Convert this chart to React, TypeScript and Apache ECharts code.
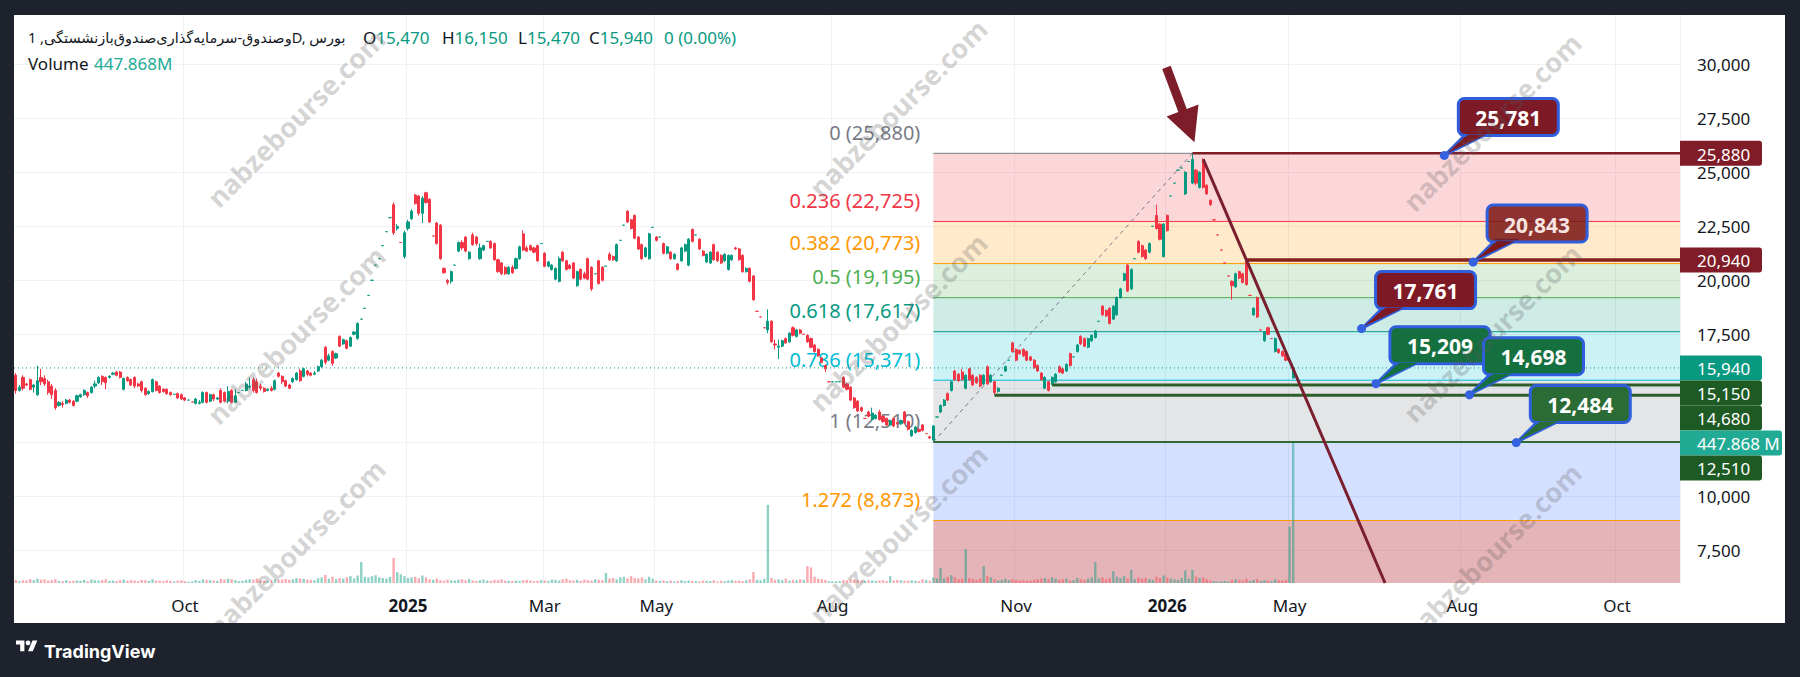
import React, { useEffect, useRef } from 'react';
import * as echarts from 'echarts';

// ---------- DATA ----------
// [open, close, low, high]
const CANDLES: number[][] = [
  [15600,14900,14750,15700],[14900,15050,14850,15150],[15500,15000,14900,15600],[15200,15150,15100,15250],[15400,14950,14900,15450],
  [15050,15150,14800,15200],[14700,15350,14650,16050],[15500,15300,15150,15900],[15450,15200,15100,15600],[15300,14800,14700,15400],
  [15100,14700,14500,15200],[14900,14100,14000,15000],[14200,14350,14150,14400],[14300,14250,14100,14400],[14300,14450,14250,14500],
  [14450,14350,14300,14500],[14400,14200,14150,14450],[14400,14650,14350,14700],[14600,14700,14550,14750],[14700,14900,14650,14950],
  [14800,14650,14550,14850],[14800,15050,14750,15100],[15100,15200,15000,15350],[15250,15500,15200,15550],[15550,15300,15150,15600],
  [15500,15250,14950,15550],[15500,15550,15450,15600],[15650,15700,15600,15750],[15750,15600,15550,15800],[15750,15500,15450,15800],
  [14950,15450,14900,15500],[15500,15350,15300,15550],[15400,15150,15100,15450],[15500,15100,15000,15550],[15200,15100,15050,15250],
  [15300,14900,14800,15350],[15000,14700,14650,15050],[14750,14850,14700,14900],[14850,15400,14800,15450],[15300,14900,14850,15350],
  [15100,14800,14750,15150],[14950,14850,14800,15000],[14950,14750,14700,15000],[14800,14700,14650,14850],[14720,14720,14720,14720],
  [14750,14550,14500,14800],[14700,14500,14450,14750],[14550,14450,14400,14600],[14450,14450,14450,14450],[14360,14360,14360,14360],
  [14300,14500,14250,14550],[14300,14350,14250,14450],[14350,14800,14300,14850],[14800,14350,14300,14850],[14400,14700,14350,14750],
  [14700,14500,14400,14750],[14500,14550,14450,14600],[14900,14350,14300,15000],[14800,14400,14350,14850],[14400,14850,14300,15100],
  [14900,14350,14300,14950],[14350,14650,14300,14950],[14800,14800,14800,14800],[14900,14900,14900,14900],[14900,15200,14850,15300],
  [15050,15100,14950,15500],[15400,14900,14800,15500],[15300,14800,14750,15450],[15100,15000,14900,15200],[15000,14850,14800,15050],
  [14900,14950,14850,15000],[15000,14900,14850,15100],[14950,15350,14900,15400],[15700,15550,15500,15750],[15550,15300,15200,15600],
  [15350,15100,15050,15400],[15150,15000,14950,15200],[15300,15450,15250,15500],[15400,15700,15350,15750],[15800,15350,15300,15900],
  [15550,15900,15500,15950],[15800,15650,15550,15850],[15700,15600,15550,15750],[15650,15700,15600,15800],[15800,16000,15750,16050],
  [16000,16300,15950,16350],[16900,16200,16100,16950],[16300,16500,16250,16600],[16700,16150,16050,16750],[16400,16600,16350,16650],
  [17400,16950,16900,17450],[17050,17250,17000,17300],[17200,16850,16800,17250],[16950,17350,16900,17400],[17500,17600,17450,17650],
  [17300,18000,17250,18050],[18200,18200,18200,18200],[18700,18700,18700,18700],
  [19300,19300,19300,19300],[20000,20000,20000,20000],[20700,20700,20700,20700],[21000,21000,21000,21000],[21600,21600,21600,21600],
  [22250,22250,22250,22250],[22900,22900,22900,22900],[23500,22200,22100,23600],[22400,22500,22300,22600],[21750,21750,21750,21750],
  [21100,22200,21000,22300],[22400,22700,22300,22800],[22850,23200,22800,23300],[23950,23550,23500,24000],[23900,23100,23000,23950],
  [23100,23800,22650,23900],[24050,23600,23550,24100],[23750,22700,22650,23800],[22050,22050,22050,22050],[22650,21700,21650,22700],
  [22550,21000,20950,22600],[20550,20350,20300,20600],[20000,19900,19800,20050],[19950,20400,19850,20450],[20700,20700,20700,20700],
  [21350,21750,21300,21800],[21750,21500,21400,21850],[22000,21350,21300,22050],[21000,21300,20950,21350],[22100,21650,21600,22200],
  [22000,21700,21600,22050],[21000,21500,20950,21700],[21400,21600,21350,21650],[21800,21800,21800,21800],[21800,21500,21450,21850],
  [21700,20950,20900,21750],[20950,20400,20350,21000],[20800,20300,20250,20850],[20600,20300,20250,20650],[20300,20600,20250,20650],
  [20600,20350,20300,20700],[20550,21000,20500,21050],[21000,21550,20950,21600],[22150,21400,21350,22300],[21500,21350,21300,21600],
  [21600,21400,21350,21650],[21500,21300,21250,21550],[21600,20900,20850,21650],[21700,21700,21700,21700],[21250,20650,20600,21300],
  [20650,20850,20600,20900],[20500,20700,20450,20750],[20050,20550,20000,20600],[19950,21000,19900,21100],[21300,20900,20850,21350],
  [20900,20500,20450,20950],[20700,20550,20500,20750],[20800,20100,20050,20850],[19750,20400,19700,20450],[20500,20050,20000,20550],
  [20300,20100,20050,20400],[21000,20050,20000,21050],[20600,19600,19500,20650],[20300,20300,20300,20300],[20900,19850,19800,20950],
  [20600,20000,19950,20650],[20650,20650,20650,20650],[21200,20950,20900,21300],[21100,20950,20900,21150],[20900,21650,20850,21700],
  [21850,21850,21850,21850],[22550,22550,22550,22550],[23200,22700,22650,23250],[22800,22400,22350,22850],[23000,21950,21900,23050],
  [22000,21450,21400,22050],[21650,21000,20950,21700],[21100,21500,21050,21550],[21000,22150,20950,22200],[22450,22450,22450,22450],
  [22000,21850,21800,22050],[22000,22000,22000,22000],[21700,21250,21200,21750],[21250,21550,21200,21600],[21300,21000,20950,21350],
  [21000,21200,20950,21250],[20750,20500,20450,20800],[20900,21500,20850,21550],[21350,21650,21300,21700],[20700,21900,20650,21950],
  [22350,21800,21750,22400],[22100,22100,22100,22100],[21900,21450,21400,21950],[21350,21150,21100,21400],[20850,21200,20800,21250],
  [20800,21300,20750,21350],[21650,20950,20900,21700],[21300,20900,20850,21350],[21150,20800,20750,21200],[20900,21200,20850,21250],
  [20500,21150,20450,21200],[20950,21150,20900,21200],[21500,21450,21400,21550],[21450,20950,20900,21500],[21150,20400,20350,21200],
  [20400,20550,20350,20600],[20550,19950,19900,20600],[20200,19100,19050,20250],[18560,18560,18560,18560],
  [18300,18300,18300,18300],[17800,17800,17800,17800],[17700,18100,17550,18650],[18100,17150,17100,18150],[17050,17000,16800,17250],
  [16900,16950,16350,17250],[16950,17200,16900,17250],[17300,17100,17050,17350],[17150,17550,17100,17600],[17800,17450,17400,17870],
  [17400,17700,17350,17750],[17700,17550,17500,17750],[17500,17500,17500,17500],[17450,17150,17100,17500],[17300,16900,16850,17350],
  [17000,16700,16650,17050],[16800,16500,16450,16850],[16400,16200,16150,16450],[16050,15900,15750,16100],[15300,15300,15300,15300],
  [15300,15300,15300,15300],[15300,15300,15300,15300],[15300,15300,15300,15300],[15500,15050,15000,15550],[15200,14950,14900,15250],
  [15050,14450,14400,15100],[14550,14100,14050,14600],[14400,13950,13900,14450],[14100,13950,13900,14150],[13600,13600,13600,13600],
  [13900,13700,13650,13950],[13550,13850,13500,14100],[13600,13750,13550,13800],[13900,13550,13500,14000],[13700,13450,13400,13750],
  [13600,13300,13250,13650],[13300,13500,13250,13550],[13600,13250,13200,13650],[13400,13350,13300,13450],[13350,13500,13300,13550],
  [13900,13400,13350,13950],[13450,13100,13050,13500],[12800,13050,12750,13100],[12950,13200,12900,13250],[13100,13000,12950,13150],
  [13300,13050,13000,13350],[12900,12900,12900,12900],[12750,12700,12650,12800],[12600,13250,12510,13300],
  [13670,13670,13670,13670],[13900,14200,13850,14250],[14200,14450,14150,14500],[14750,14450,14400,14800],[14900,15300,14850,15350],
  [15800,15400,15350,15850],[15650,15350,15300,15700],[15750,15400,15350,15900],[15000,15600,14950,15650],[15900,15400,15350,15950],
  [15600,15150,15100,15650],[15500,15250,15200,15550],[15600,15100,15050,15650],[15200,15600,15150,15650],[16000,15200,15150,16050],
  [15300,15600,15250,15650],[15300,14800,14680,15350],[14850,15000,14800,15050],[15600,15600,15600,15600],[15800,16000,15750,16050],
  [16300,16300,16300,16300],[17100,16700,16650,17150],[16800,16300,16250,16850],[16750,16600,16550,16800],[16800,16500,16450,16850],
  [16700,16300,16250,16750],[16450,16300,16250,16500],[16300,15950,15900,16350],[16050,15800,15750,16100],[15700,15400,15350,15750],
  [15000,15500,14950,15550],[15300,14900,14850,15350],[15200,15500,15150,15550],[15300,15650,15250,15700],[16000,15750,15700,16050],
  [15900,15700,15650,15950],[15800,16100,15750,16150],[16600,16050,16000,16650],[16450,16450,16450,16450],[16700,17000,16650,17050],
  [17400,17050,17000,17450],[17300,16950,16900,17350],[16900,17300,16850,17350],[17200,17450,17150,17500],[17350,17650,17300,17700],
  [18100,18100,18100,18100],[18800,18400,18350,18850],[18600,18350,18300,18650],[18700,18000,17950,18750],[18200,18800,18150,18850],
  [18400,19200,18350,19250],[19200,19600,19150,19650],[20000,20300,19950,20350],[20700,19500,19450,20750],[19600,20500,19550,20550],
  [21000,21000,21000,21000],[21800,21300,21250,21850],[21600,21100,21050,21650],[21400,21000,20950,21450],[21300,21700,21250,21750],
  [22500,22500,22500,22500],[23000,22400,22350,23500],[22600,21900,21850,22650],[21100,22600,21050,22650],[23000,22300,22250,23050],
  [23900,23900,23900,23900],[24500,24500,24500,24500],[25100,25100,25100,25100],[25200,25200,25200,25200],[24000,25000,23950,25050],
  [25500,25500,25500,25500],[24500,25600,24450,25880],[25100,24500,24400,25150],[24300,25000,24250,25050],[25600,24300,24250,25650],
  [24400,24000,23950,24450],[23700,23500,23450,23750],[22800,22800,22800,22800],[22100,22100,22100,22100],[21400,21400,21400,21400],
  [20800,20800,20800,20800],[20200,20200,20200,20200],[19950,19750,19100,20000],[19700,20300,19650,20350],[20400,20100,20050,20450],
  [20300,19900,19850,20350],[20900,19800,19750,20950],[19300,19300,19300,19300],[18400,18700,18350,18750],[19200,18300,18250,19250],
  [17700,17700,17700,17700],[17200,17600,17150,17650],[17800,17500,17450,17850],[17300,17300,17300,17300],[16700,17300,16650,17350],
  [16800,16650,16600,16850],[16700,16500,16450,16750],[16600,16300,16250,16650],[16250,16250,16250,16250],[15470,15940,15470,16150],
];

// volume in millions
const VOLUMES_M: number[] = [
  10,6,9,8,12,9,14,11,12,8, 9,13,7,6,9,6,7,8,7,10, 6,11,9,8,10,12,7,8,6,9, 11,7,9,8,6,10,9,7,12,8,
  7,6,9,7,5,8,9,6,4,5, 9,7,12,10,9,8,7,13,11,14, 12,9,6,7,10,12,11,14,9,8, 7,10,12,9,11,13,10,12,16,14,
  13,11,10,9,15,18,26,14,20,12, 16,14,18,22,15,24,67,20,18,22, 25,18,16,14,20,80,35,28,22,16, 18,20,15,24,18,12,10,14,9,8,
  11,9,8,10,12,9,13,8,7,9, 11,8,7,10,9,12,8,7,6,8, 7,9,10,8,6,7,9,8,7,11, 10,8,12,14,9,8,10,7,11,9,
  8,12,10,9,32,14,16,12,18,20, 15,22,16,14,18,12,20,14,8,7, 9,6,8,5,7,9,6,8,7,6, 5,8,7,6,9,5,7,6,8,9,
  7,8,6,9,12,35,10,9,14,250, 16,10,12,9,14,8,10,9,12,10, 54,50,20,14,12,10,6,5,5,6, 10,9,12,11,10,8,6,9,8,7,
  8,9,6,22,8,10,9,7,8,9, 7,6,12,10,8,18,14,48,15,20, 25,18,12,14,109,16,12,10,14,54, 22,18,12,8,10,14,9,12,10,8,
  9,7,8,10,12,14,16,12,18,14, 10,12,14,8,9,16,12,10,14,18, 67,14,18,12,16,38,20,16,22,14, 42,12,18,14,16,12,10,20,16,24,
  18,14,12,10,16,40,14,42,20,16, 18,12,8,6,5,5,6,5,10,12, 9,8,14,6,10,12,6,9,8,6, 12,9,8,10,180,447.868,
];

const FUTURE_BARS = 107;
const TIME_TICKS = [
  { index: 47, label: 'Oct' }, { index: 109, label: '2025', bold: true }, { index: 147, label: 'Mar' },
  { index: 178, label: 'May' }, { index: 227, label: 'Aug' }, { index: 278, label: 'Nov' },
  { index: 320, label: '2026', bold: true }, { index: 354, label: 'May' }, { index: 402, label: 'Aug' },
  { index: 445, label: 'Oct' },
];
const PRICE_TICKS = [7500, 10000, 12500, 15000, 17500, 20000, 22500, 25000, 27500, 30000];
const PRICE_MIN = 5980;
const PRICE_MAX = 32285;
const VOLUME_AXIS_MAX = 1817;

const FIB_HIGH = 25880;
const FIB_LOW = 12510;
const FIB_START_INDEX = 255;
const FIB_HIGH_INDEX = 327;
const FIB_LEVELS = [0, 0.236, 0.382, 0.5, 0.618, 0.786, 1, 1.272, 1.618];
const FIB_COLORS = ['#787b86', '#f23645', '#ff9800', '#4caf50', '#089981', '#00bcd4', '#787b86', '#ff9800', '#2962ff'];
const FIB_FILLS = [
  'rgba(242,54,69,0.2)', 'rgba(255,152,0,0.2)', 'rgba(76,175,80,0.2)', 'rgba(8,153,129,0.2)',
  'rgba(0,188,212,0.2)', 'rgba(120,123,134,0.2)', 'rgba(41,98,255,0.2)', 'rgba(178,40,51,0.35)',
];

const LAST_PRICE = 15940;
const H_LINES = [
  { price: 25880, from: 327, color: '#7f1d27', width: 2.5 },
  { price: 20940, from: 342, color: '#85201a', width: 3.5 },
  { price: 15150, from: 288, color: '#2d5e2a', width: 3 },
  { price: 14680, from: 272, color: '#2d5e2a', width: 3 },
  { price: 12510, from: 255, color: '#2f6a33', width: 2 },
];
const TREND_LINE = { a: [330, 25600], b: [342, 20940], color: '#7a1f2e', width: 3 };

const CALLOUTS = [
  { value: 25781, index: 397, fill: '#7c1a26', text: '#ffffff' },
  { value: 20843, index: 405, fill: 'rgba(122,22,20,0.86)', text: '#f7e3e0' },
  { value: 17761, index: 374, fill: '#7e1a26', text: '#ffffff' },
  { value: 15209, index: 378, fill: '#15703f', text: '#ffffff' },
  { value: 14698, index: 404, fill: '#15703f', text: '#ffffff' },
  { value: 12484, index: 417, fill: '#2b6b35', text: '#ffffff' },
];

const PRICE_TAGS = [
  { value: 25880, color: '#801c27' },
  { value: 20940, color: '#801c27' },
  { value: 15940, color: '#089981' },
  { value: 15150, color: '#1e5a23' },
  { value: 14680, color: '#1e5a23' },
  { volume: true, value: 447.868, color: '#22ab94', label: '447.868 M' },
  { value: 12510, color: '#1e5a23' },
];

const TITLE = 'وصندوق-سرمایه‌گذاری‌صندوق‌بازنشستگی, 1D, بورس';
const OHLC_ITEMS = [
  { key: 'O', value: '15,470', x: 363 },
  { key: 'H', value: '16,150', x: 442 },
  { key: 'L', value: '15,470', x: 518 },
  { key: 'C', value: '15,940', x: 589 },
];
const CHANGE_TEXT = '0 (0.00%)';
const VOLUME_TEXT = '447.868M';
const WATERMARK = 'nabzebourse.com';
const WATERMARK_POS = [[296, 118], [898, 108], [1492, 122], [296, 335], [898, 322], [1492, 333], [296, 548], [898, 534], [1492, 552]];

// ---------- LAYOUT ----------
const GRID = { left: 14, top: 15, width: 1666, height: 568 };
const FONT = "'Noto Sans', 'DejaVu Sans', sans-serif";
const FRAME = '#1e222d';
const UP = '#089981';
const DOWN = '#f23645';
const TEXT = '#131722';

const TV_LOGO = 'M14 22H7V11H0V4h14v18zM28 22h-8l7.5-18h8L28 22z';

export default function App() {
  const ref = useRef<HTMLDivElement>(null);

  useEffect(() => {
    if (!ref.current) return;
    echarts.graphic.registerShape('tvlogo', (echarts.graphic as any).extendPath(TV_LOGO, {}));
    const chart = echarts.init(ref.current, null, { renderer: 'svg' });

    const total = CANDLES.length + FUTURE_BARS;
    const categories = Array.from({ length: total }, (_, i) => String(i));
    const tickMap = new Map(TIME_TICKS.map((t) => [t.index, t]));

    const volumeData = VOLUMES_M.map((v, i) => {
      const c = CANDLES[i];
      const up = c[1] >= c[0];
      return { value: v, itemStyle: { color: up ? 'rgba(8,153,129,0.45)' : 'rgba(242,54,69,0.42)' } };
    });

    chart.setOption({
      animation: false,
      backgroundColor: '#ffffff',
      grid: { ...GRID, show: false },
      xAxis: {
        type: 'category',
        data: categories,
        boundaryGap: true,
        axisLine: { show: false },
        axisTick: { show: false },
        axisLabel: {
          interval: (i: number) => tickMap.has(i),
          formatter: (_v: string, i: number) => {
            const t = tickMap.get(i);
            if (!t) return '';
            return t.bold ? `{b|${t.label}}` : t.label;
          },
          margin: 14,
          fontSize: 17,
          fontFamily: FONT,
          color: TEXT,
          rich: { b: { fontSize: 17, fontFamily: FONT, fontWeight: 'bold', color: TEXT } },
        },
        splitLine: { show: true, interval: (i: number) => tickMap.has(i), lineStyle: { color: '#f0f1f4', width: 1 } },
      },
      yAxis: [
        {
          type: 'value',
          position: 'right',
          min: PRICE_MIN,
          max: PRICE_MAX,
          axisLine: { show: false },
          axisTick: { show: false, customValues: PRICE_TICKS },
          axisLabel: {
            customValues: PRICE_TICKS,
            formatter: (v: number) => v.toLocaleString('en-US'),
            margin: 17,
            fontSize: 17,
            fontFamily: FONT,
            color: TEXT,
          },
          splitLine: { show: true, lineStyle: { color: '#f0f1f4', width: 1 } },
        },
        { type: 'value', min: 0, max: VOLUME_AXIS_MAX, show: false },
      ],
      series: [
        {
          type: 'bar',
          yAxisIndex: 1,
          data: volumeData,
          barWidth: 2.4,
          silent: true,
          z: 2,
        },
        {
          type: 'candlestick',
          data: CANDLES,
          barWidth: 2.6,
          silent: true,
          z: 3,
          itemStyle: { color: UP, color0: DOWN, borderColor: UP, borderColor0: DOWN, borderWidth: 1 },
        },
      ],
    });

    const px = (i: number, p: number) => chart.convertToPixel({ xAxisIndex: 0, yAxisIndex: 0 }, [i, p]) as number[];
    const rightX = GRID.left + GRID.width;
    const bottomY = GRID.top + GRID.height;
    const els: any[] = [];

    // fib retracement
    const range = FIB_HIGH - FIB_LOW;
    const x0 = px(FIB_START_INDEX, FIB_HIGH)[0];
    FIB_LEVELS.forEach((lv, k) => {
      const price = FIB_HIGH - lv * range;
      const y = px(FIB_START_INDEX, price)[1];
      if (k < FIB_LEVELS.length - 1 && y < bottomY) {
        const y2 = Math.min(px(FIB_START_INDEX, FIB_HIGH - FIB_LEVELS[k + 1] * range)[1], bottomY);
        els.push({ type: 'rect', silent: true, z: 1, shape: { x: x0, y, width: rightX - x0, height: y2 - y }, style: { fill: FIB_FILLS[k] } });
      }
      if (y <= bottomY) {
        els.push({ type: 'line', silent: true, z: 1, shape: { x1: x0, y1: y, x2: rightX, y2: y }, style: { stroke: FIB_COLORS[k], lineWidth: 1 } });
        els.push({
          type: 'text', silent: true, z: 1, x: x0 - 13, y: y - 21,
          style: { text: `${lv} (${Math.round(price).toLocaleString('en-US')})`, fill: FIB_COLORS[k], font: `20px ${FONT}`, textAlign: 'right', textVerticalAlign: 'middle' },
        });
      }
    });
    const fLow = px(FIB_START_INDEX, FIB_LOW);
    const fHigh = px(FIB_HIGH_INDEX, FIB_HIGH);
    els.push({ type: 'line', silent: true, z: 1, shape: { x1: fLow[0], y1: fLow[1], x2: fHigh[0], y2: fHigh[1] }, style: { stroke: '#787b86', lineWidth: 1, lineDash: [4, 4] } });

    // last price dotted line
    const lpY = px(0, LAST_PRICE)[1];
    els.push({ type: 'line', silent: true, z: 5, shape: { x1: GRID.left, y1: lpY, x2: rightX, y2: lpY }, style: { stroke: UP, lineWidth: 1, lineDash: [1, 3] } });

    // user horizontal lines
    H_LINES.forEach((h) => {
      const p = px(h.from, h.price);
      els.push({ type: 'line', silent: true, z: 10, shape: { x1: p[0], y1: p[1], x2: rightX, y2: p[1] }, style: { stroke: h.color, lineWidth: h.width } });
    });

    // trend line
    const ta = px(TREND_LINE.a[0], TREND_LINE.a[1]);
    const tb = px(TREND_LINE.b[0], TREND_LINE.b[1]);
    const tEndX = ta[0] + ((bottomY - ta[1]) * (tb[0] - ta[0])) / (tb[1] - ta[1]);
    els.push({ type: 'line', silent: true, z: 10, shape: { x1: ta[0], y1: ta[1], x2: tEndX, y2: bottomY }, style: { stroke: TREND_LINE.color, lineWidth: TREND_LINE.width } });

    // arrow toward the peak
    {
      const tip = [fHigh[0] + 2, fHigh[1] - 11];
      const tail = [fHigh[0] - 26, fHigh[1] - 86];
      const dx = tip[0] - tail[0];
      const dy = tip[1] - tail[1];
      const L = Math.hypot(dx, dy);
      const ux = dx / L, uy = dy / L, nx = -uy, ny = ux;
      const hb = [tip[0] - ux * 34, tip[1] - uy * 34];
      const pts = [
        [tail[0] + nx * 4.5, tail[1] + ny * 4.5],
        [hb[0] + nx * 4.5, hb[1] + ny * 4.5],
        [hb[0] + nx * 17, hb[1] + ny * 17],
        tip,
        [hb[0] - nx * 17, hb[1] - ny * 17],
        [hb[0] - nx * 4.5, hb[1] - ny * 4.5],
        [tail[0] - nx * 4.5, tail[1] - ny * 4.5],
      ];
      els.push({ type: 'polygon', silent: true, z: 12, shape: { points: pts }, style: { fill: '#7d1d2a' } });
    }

    // callouts
    const BLUE = '#2f5fdc';
    CALLOUTS.forEach((c) => {
      const a = px(c.index, c.value);
      const bw = 100, bh = 37;
      const bx = a[0] + 14;
      const by = a[1] - 20 - bh;
      els.push({ type: 'polygon', silent: true, z: 20, shape: { points: [[a[0], a[1]], [bx + 8, by + bh - 2], [bx + 30, by + bh - 2]] }, style: { fill: c.fill, stroke: BLUE, lineWidth: 2.5, lineJoin: 'round' } });
      els.push({ type: 'rect', silent: true, z: 21, shape: { x: bx, y: by, width: bw, height: bh, r: 6 }, style: { fill: c.fill, stroke: BLUE, lineWidth: 3 } });
      els.push({ type: 'polygon', silent: true, z: 22, shape: { points: [[a[0] + 2, a[1] - 2], [bx + 10, by + bh - 1], [bx + 28, by + bh - 1]] }, style: { fill: c.fill } });
      els.push({ type: 'text', silent: true, z: 23, x: bx + bw / 2, y: by + bh / 2 + 1, style: { text: c.value.toLocaleString('en-US'), fill: c.text, font: `bold 21px ${FONT}`, textAlign: 'center', textVerticalAlign: 'middle' } });
      els.push({ type: 'circle', silent: true, z: 24, shape: { cx: a[0], cy: a[1], r: 4.5 }, style: { fill: '#3562e0' } });
    });

    // price tags (stacked)
    const TAG_H = 25;
    let prevBottom = -Infinity;
    PRICE_TAGS.forEach((t: any) => {
      const natural = t.volume
        ? (chart.convertToPixel({ xAxisIndex: 0, yAxisIndex: 1 }, [CANDLES.length - 1, t.value]) as number[])[1]
        : px(0, t.value)[1];
      const cy = Math.max(natural, prevBottom + TAG_H / 2);
      prevBottom = cy + TAG_H / 2;
      const w = t.volume ? 102 : 82;
      els.push({ type: 'rect', silent: true, z: 30, shape: { x: rightX, y: cy - TAG_H / 2, width: w, height: TAG_H, r: [0, 3, 3, 0] }, style: { fill: t.color } });
      els.push({ type: 'text', silent: true, z: 31, x: rightX + 17, y: cy + 1, style: { text: t.label ?? t.value.toLocaleString('en-US'), fill: '#ffffff', font: `17px ${FONT}`, textAlign: 'left', textVerticalAlign: 'middle' } });
    });

    // watermark
    WATERMARK_POS.forEach(([wx, wy]) => {
      els.push({ type: 'text', silent: true, z: 45, x: wx, y: wy, rotation: Math.PI / 4, style: { text: WATERMARK, fill: 'rgba(90,90,90,0.27)', font: `bold 27px ${FONT}`, textAlign: 'center', textVerticalAlign: 'middle' } });
    });

    // frame
    els.push({ type: 'rect', silent: true, z: 100, shape: { x: 0, y: 0, width: 1800, height: 15 }, style: { fill: FRAME } });
    els.push({ type: 'rect', silent: true, z: 100, shape: { x: 0, y: 0, width: 14, height: 677 }, style: { fill: FRAME } });
    els.push({ type: 'rect', silent: true, z: 100, shape: { x: 1785, y: 0, width: 15, height: 677 }, style: { fill: FRAME } });
    els.push({ type: 'rect', silent: true, z: 100, shape: { x: 0, y: 623, width: 1800, height: 54 }, style: { fill: FRAME } });
    els.push({ type: 'tvlogo', silent: true, z: 101, x: 16, y: 638, scaleX: 0.6, scaleY: 0.6, style: { fill: '#ffffff' } });
    els.push({ type: 'circle', silent: true, z: 101, shape: { cx: 16 + 20 * 0.6, cy: 638 + 8 * 0.6, r: 4 * 0.6 }, style: { fill: '#ffffff' } });
    els.push({ type: 'text', silent: true, z: 101, x: 44, y: 651, style: { text: 'TradingView', fill: '#ffffff', font: `bold 18px Inter, ${FONT}`, textAlign: 'left', textVerticalAlign: 'middle' } });

    // header
    els.push({ type: 'text', silent: true, z: 40, x: 28, y: 37, style: { text: TITLE, fill: TEXT, font: `14.5px ${FONT}`, textAlign: 'left', textVerticalAlign: 'middle' } });
    OHLC_ITEMS.forEach((o) => {
      els.push({
        type: 'text', silent: true, z: 40, x: o.x, y: 37,
        style: {
          text: `{k|${o.key}}{v|${o.value}}`, font: `17px ${FONT}`, textAlign: 'left', textVerticalAlign: 'middle',
          rich: { k: { fill: TEXT, font: `17px ${FONT}` }, v: { fill: UP, font: `17px ${FONT}` } },
        },
      });
    });
    els.push({ type: 'text', silent: true, z: 40, x: 664, y: 37, style: { text: CHANGE_TEXT, fill: UP, font: `17px ${FONT}`, textAlign: 'left', textVerticalAlign: 'middle' } });
    els.push({ type: 'text', silent: true, z: 40, x: 28, y: 63, style: { text: 'Volume', fill: TEXT, font: `17px ${FONT}`, textAlign: 'left', textVerticalAlign: 'middle' } });
    els.push({ type: 'text', silent: true, z: 40, x: 94, y: 63, style: { text: VOLUME_TEXT, fill: '#22ab94', font: `17px ${FONT}`, textAlign: 'left', textVerticalAlign: 'middle' } });

    chart.setOption({ graphic: { elements: els } });

    return () => chart.dispose();
  }, []);

  return <div ref={ref} style={{ position: 'fixed', left: 0, top: 0, width: 1800, height: 677 }} />;
}
